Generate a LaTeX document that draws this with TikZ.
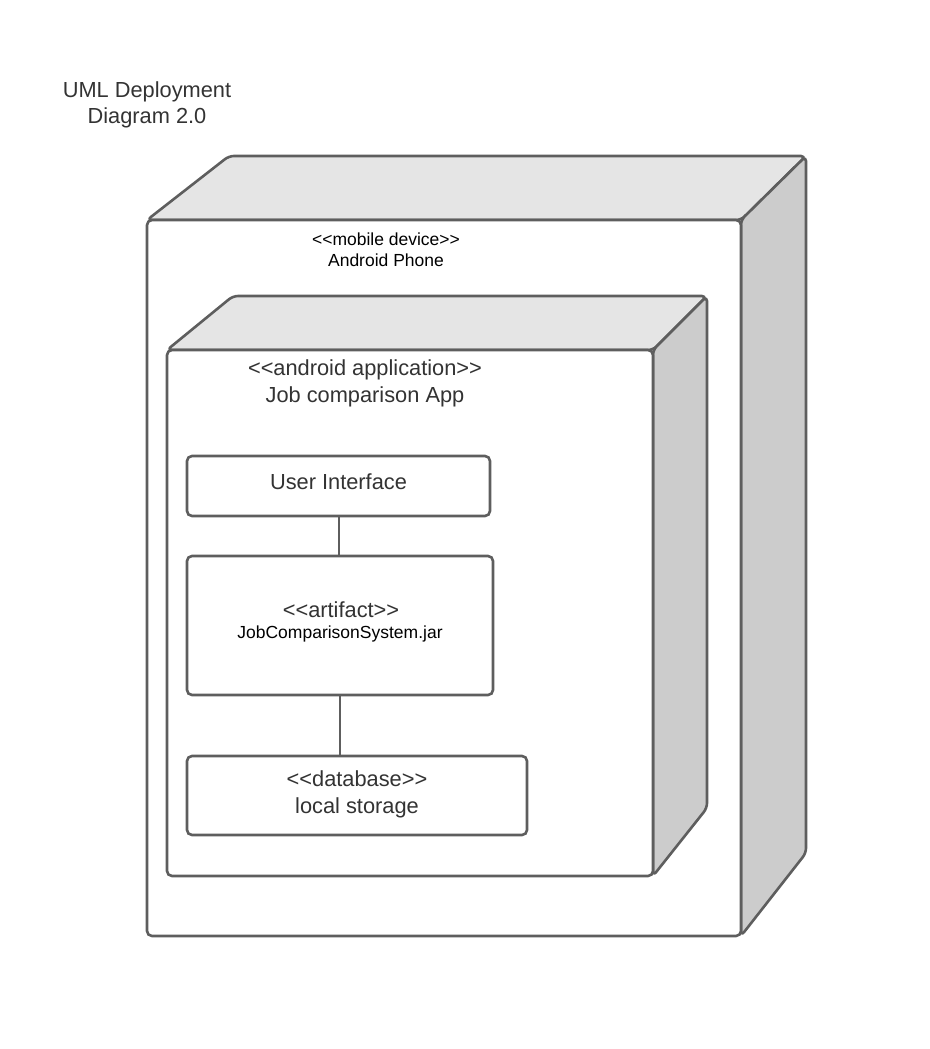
\documentclass[tikz,border=0pt]{standalone}
\usepackage{fontspec}
\setmainfont{Liberation Sans}
\newcommand\stOpen{<\kern0pt<}
\newcommand\stClose{>\kern0pt>}
\definecolor{edge}{HTML}{5E5E5E}
\definecolor{topfill}{HTML}{E5E5E5}
\definecolor{sidefill}{HTML}{CCCCCC}
\definecolor{txt}{HTML}{333333}
\tikzset{
  outline/.style={draw=edge, line width=2.6pt, rounded corners=5pt, line join=round},
  topface/.style={outline, fill=topfill},
  sideface/.style={outline, fill=sidefill},
  compbox/.style={draw=edge, line width=2.6pt, rounded corners=5pt, fill=white, inner sep=0pt},
  bigtxt/.style={text=txt, font=\fontsize{21.8}{27}\selectfont, align=center, inner sep=0pt},
  smalltxt/.style={text=black, font=\fontsize{17.5}{21}\selectfont, align=center, inner sep=0pt},
  link/.style={draw=edge, line width=2pt}
}
\begin{document}
\begin{tikzpicture}[x=1pt, y=-1pt]
\useasboundingbox (0,0) rectangle (929,1049);

% title
\node[bigtxt, font=\fontsize{21.8}{26}\selectfont] (title) at (147,104.5) {UML Deployment\\Diagram 2.0};

% outer node (mobile device)
\path[topface] (147,220) -- (229,156) -- (806,156) -- (741,220) -- cycle;
\path[sideface] (741,220) -- (806,156) -- (806,853) -- (741,936) -- cycle;
\node[minimum width=594pt, minimum height=716pt, inner sep=0pt] (phone) at (444,578) {};
\draw[outline, fill=white] (147,220) rectangle (741,936);
\node[smalltxt] (phonelbl) at (386,250) {\stOpen mobile device\stClose\\Android Phone};

% inner node (android application)
\path[topface] (167,350) -- (233,296) -- (707,296) -- (653,350) -- cycle;
\path[sideface] (653,350) -- (707,296) -- (707,808) -- (653,876) -- cycle;
\node[minimum width=486pt, minimum height=526pt, inner sep=0pt] (app) at (410,613) {};
\draw[outline, fill=white] (167,350) rectangle (653,876);
\node[bigtxt] (applbl) at (365,383) {\stOpen android application\stClose\\Job comparison App};

% components
\node[compbox, minimum width=303pt, minimum height=60pt] (ui) at (338.5,486) {};
\node[bigtxt] (uilbl) at (338.5,482) {User Interface};

\node[compbox, minimum width=306pt, minimum height=139pt] (art) at (340,625.5) {};
\node[bigtxt] (artst) at (341,610) {\stOpen artifact\stClose};
\node[smalltxt] (artname) at (340,634) {JobComparisonSystem.jar};

\node[compbox, minimum width=340pt, minimum height=79pt] (db) at (357,795.5) {};
\node[bigtxt] (dblbl) at (357,794) {\stOpen database\stClose\\local storage};

% connectors
\draw[link] (ui.south) -- (ui.south |- art.north);
\draw[link] (art.south) -- (art.south |- db.north);
\end{tikzpicture}
\end{document}
